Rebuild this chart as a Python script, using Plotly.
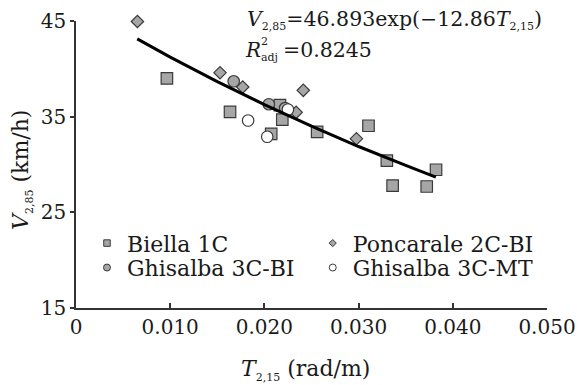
import plotly.graph_objects as go

# ---- data ----
biella_x = [0.00965, 0.01635, 0.02165, 0.0219, 0.02072, 0.0256, 0.03105, 0.0330, 0.03361, 0.03723, 0.03822]
biella_y = [39.0, 35.5, 36.2, 34.7, 33.2, 33.4, 34.05, 30.4, 27.8, 27.7, 29.45]

poncarale_x = [0.00652, 0.01529, 0.0177, 0.02413, 0.02337, 0.02977]
poncarale_y = [44.95, 39.6, 38.1, 37.75, 35.45, 32.7]

ghis_bi_x = [0.01674, 0.02047, 0.0222]
ghis_bi_y = [38.7, 36.3, 35.9]

ghis_mt_x = [0.01827, 0.0203, 0.0225]
ghis_mt_y = [34.6, 32.9, 35.75]

fit_x = [0.0065, 0.010, 0.015, 0.020, 0.025, 0.030, 0.035, 0.0382]
fit_y = [43.13, 41.23, 38.67, 36.26, 34.00, 31.88, 29.90, 28.69]

x_tickvals = [0, 0.01, 0.02, 0.03, 0.04, 0.05]
x_ticktext = ["0", "0.010", "0.020", "0.030", "0.040", "0.050"]
y_tickvals = [15, 25, 35, 45]

series_names = ["Biella 1C", "Poncarale 2C-BI", "Ghisalba 3C-BI", "Ghisalba 3C-MT"]

FONT = "DejaVu Serif"
TXT = "#1a1a1a"
FILL = "#a6a6a6"
EDGE = "#3a3a3a"

def sub(s, size=11):
    return f"<sub><span style='font-size:{size}px'>{s}</span></sub>"

fig = go.Figure()

fig.add_trace(go.Scatter(x=biella_x, y=biella_y, mode="markers", showlegend=False, cliponaxis=False,
                         marker=dict(symbol="square", size=11.5, color=FILL, line=dict(color=EDGE, width=1.2))))
fig.add_trace(go.Scatter(x=poncarale_x, y=poncarale_y, mode="markers", showlegend=False, cliponaxis=False,
                         marker=dict(symbol="diamond", size=9.5, color=FILL, line=dict(color=EDGE, width=1.2))))
fig.add_trace(go.Scatter(x=ghis_bi_x, y=ghis_bi_y, mode="markers", showlegend=False, cliponaxis=False,
                         marker=dict(symbol="circle", size=11.5, color=FILL, line=dict(color=EDGE, width=1.2))))
fig.add_trace(go.Scatter(x=ghis_mt_x, y=ghis_mt_y, mode="markers", showlegend=False, cliponaxis=False,
                         marker=dict(symbol="circle", size=11.5, color="white", line=dict(color=EDGE, width=1.2))))
fig.add_trace(go.Scatter(x=fit_x, y=fit_y, mode="lines", showlegend=False, cliponaxis=False,
                         line=dict(color="black", width=3)))

# legend-only entries with small symbols
legend_specs = [
    ("legend", series_names[0], "square", 6.5, FILL),
    ("legend2", series_names[1], "diamond", 5.5, FILL),
    ("legend3", series_names[2], "circle", 7, FILL),
    ("legend4", series_names[3], "circle", 7, "white"),
]
for lg, name, sym, sz, col in legend_specs:
    fig.add_trace(go.Scatter(x=[None], y=[None], mode="markers", name=name, legend=lg,
                             marker=dict(symbol=sym, size=sz, color=col, line=dict(color=EDGE, width=1))))

L, R, T, B = 76, 31.5, 21, 76.7
W, H = 579, 385
pw = W - L - R
ph = H - T - B

def px(xp):
    return (xp - L) / pw

def py(yp):
    return (H - B - yp) / ph

legfont = dict(family=FONT, size=22, color=TXT)
def leg(textx, ypix):
    return dict(x=px(textx - 40), y=py(ypix), xanchor="left", yanchor="middle",
                font=legfont, bgcolor="rgba(0,0,0,0)", borderwidth=0)

def ann(text, xp, yp, size=20, xanchor="left", angle=0):
    return dict(text=text, xref="paper", yref="paper", x=px(xp), y=py(yp),
                xanchor=xanchor, yanchor="middle", showarrow=False, textangle=angle,
                font=dict(family=FONT, size=size, color=TXT))

fig.update_layout(
    width=W, height=H,
    margin=dict(l=L, r=R, t=T, b=B),
    paper_bgcolor="white", plot_bgcolor="white",
    font=dict(family=FONT, size=20, color=TXT),
    legend=leg(127, 243.5),
    legend2=leg(353, 243.5),
    legend3=leg(127, 268),
    legend4=leg(353, 268),
    xaxis=dict(range=[0, 0.05], tickvals=x_tickvals, ticktext=x_ticktext,
               showline=True, linecolor="#333", linewidth=1.5,
               ticks="inside", ticklen=5, tickwidth=1.5, tickcolor="#333",
               tickfont=dict(family=FONT, size=20, color=TXT),
               showgrid=False, zeroline=False, automargin=False),
    yaxis=dict(range=[15, 45], tickvals=y_tickvals,
               showline=True, linecolor="#333", linewidth=1.5,
               ticks="outside", ticklen=4, tickwidth=1.5, tickcolor="#333",
               tickfont=dict(family=FONT, size=20, color=TXT),
               showgrid=False, zeroline=False, automargin=False),
    annotations=[
        ann("<i>V</i>" + sub("2,85") + "=46.893exp(−12.86<i>T</i>" + sub("2,15") + ")", 245, 20, size=20.5),
        ann("<i>R</i>", 243, 50),
        ann("2", 259, 42, size=11),
        ann("adj", 259, 58, size=11),
        ann("=0.8245", 281, 50, size=20.5),
        ann("<i>T</i>" + sub("2,15") + " (rad/m)", 306, 370, size=22, xanchor="center"),
        ann("<i>V</i>" + sub("2,85") + " (km/h)", 22, 170, size=22, xanchor="center", angle=-90),
    ],
)

fig.write_html("out.html", config={"displayModeBar": False},
               post_script="document.body.style.margin='0';document.body.style.padding='0';")
